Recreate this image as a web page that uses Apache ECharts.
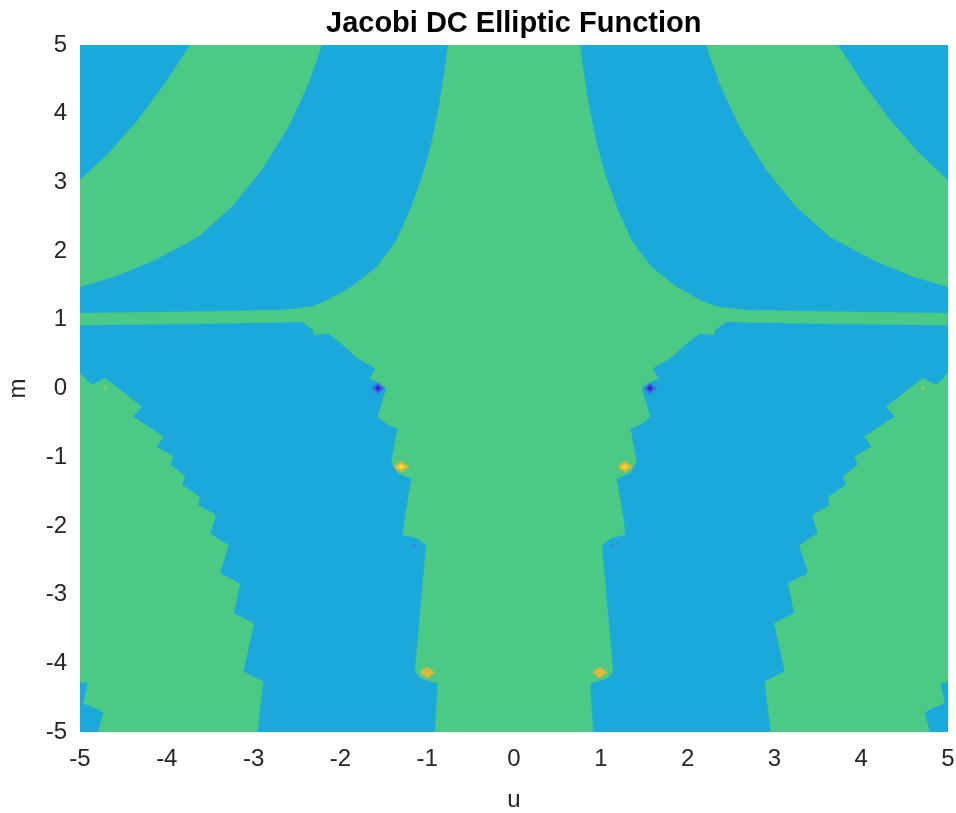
<!DOCTYPE html>
<html>
<head>
<meta charset="utf-8">
<script src="https://cdn.jsdelivr.net/npm/echarts@6/dist/echarts.min.js"></script>
<style>html,body{margin:0;padding:0;background:#fff;}#chart{width:956px;height:813px;}</style>
</head>
<body>
<div id="chart"></div>
<script>
// Axis ticks
const uTicks = [-5, -4, -3, -2, -1, 0, 1, 2, 3, 4, 5];
const mTicks = [-5, -4, -3, -2, -1, 0, 1, 2, 3, 4, 5];

// Region boundaries, [u, m], right half (u >= 0); the plot is mirror-symmetric in u
const centralRight = [
  [0.757, 5.0], [0.803, 4.588], [0.864, 4.10], [0.94, 3.617], [1.045, 3.13], [1.18, 2.646],
  [1.35, 2.16], [1.58, 1.77], [1.87, 1.48], [2.14, 1.29], [2.33, 1.19], [2.67, 1.14],
  [3.8, 1.115], [5.0, 1.095], [5.0, 0.924], [3.5, 0.945], [2.44, 0.972], [2.316, 0.852],
  [2.30, 0.779], [2.14, 0.803], [1.99, 0.658], [1.80, 0.44], [1.62, 0.317], [1.60, 0.27],
  [1.66, 0.149], [1.59, 0.10], [1.47, 0.003], [1.567, -0.41], [1.45, -0.53], [1.34, -0.58],
  [1.41, -1.065], [1.34, -1.23], [1.18, -1.31], [1.26, -1.91], [1.28, -2.13], [1.125, -2.17],
  [1.01, -2.28], [1.14, -4.12], [1.07, -4.22], [0.876, -4.29], [0.91, -5.0]
];
const upperBandRight = [
  [2.215, 5.0], [2.37, 4.44], [2.60, 3.81], [2.91, 3.18], [3.25, 2.65], [3.64, 2.21],
  [4.14, 1.87], [4.60, 1.63], [5.0, 1.48], [5.0, 3.03], [4.67, 3.42], [4.33, 3.91],
  [4.02, 4.44], [3.73, 5.0]
];
const lowerOuterRight = [
  [5.0, 0.22], [4.865, 0.05], [4.71, 0.15], [4.29, -0.265], [4.39, -0.41], [4.04, -0.70],
  [4.12, -0.85], [3.93, -0.99], [3.96, -1.11], [3.79, -1.28], [3.83, -1.40], [3.62, -1.58],
  [3.64, -1.70], [3.44, -1.84], [3.50, -2.11], [3.29, -2.28], [3.39, -2.69], [3.16, -2.84],
  [3.23, -3.27], [3.00, -3.42], [3.12, -4.12], [2.89, -4.27], [2.96, -5.0], [4.79, -5.0],
  [4.73, -4.73], [4.77, -4.68], [4.96, -4.58], [4.91, -4.29], [5.0, -4.27]
];

// Point-like features
const blueSpots = [[1.567, 0.003], [-1.567, 0.003]];
const orangeSpots = [[1.279, -1.138], [-1.30, -1.138], [0.99, -4.135], [-1.0, -4.135]];
const tinyOrange = [[4.71, 0.003], [-4.71, 0.003]];
const tinyBlue = [[1.137, -2.28], [-1.149, -2.28]];

const BLUE = '#1BA9DC';
const GREEN = '#4BCA85';

function mirror(pts) { return pts.map(p => [-p[0], p[1]]); }
const centralPoly = centralRight.concat(mirror(centralRight).reverse());
const polygons = [
  centralPoly,
  upperBandRight, mirror(upperBandRight),
  lowerOuterRight, mirror(lowerOuterRight)
];

const chart = echarts.init(document.getElementById('chart'), null, { renderer: 'canvas' });
const labelStyle = { color: '#262626', fontFamily: 'Liberation Sans, Arial, sans-serif', fontSize: 24 };

chart.setOption({
  animation: false,
  backgroundColor: '#ffffff',
  title: {
    text: 'Jacobi DC Elliptic Function',
    left: 321, top: 4,
    textStyle: { fontFamily: 'Liberation Sans, Arial, sans-serif', fontWeight: 'bold', fontSize: 29, color: '#000' }
  },
  grid: {
    left: 80, right: 8, top: 45, bottom: 81, show: true, backgroundColor: BLUE, borderWidth: 0,
    containLabel: false, outerBoundsMode: 'none'
  },
  xAxis: {
    type: 'value', min: uTicks[0], max: uTicks[uTicks.length - 1], interval: 1,
    name: 'u', nameLocation: 'middle', nameGap: 56,
    nameTextStyle: labelStyle,
    axisLine: { show: false }, axisTick: { show: false }, splitLine: { show: false },
    axisLabel: Object.assign({ margin: 15 }, labelStyle)
  },
  yAxis: {
    type: 'value', min: mTicks[0], max: mTicks[mTicks.length - 1], interval: 1,
    name: 'm', nameLocation: 'middle', nameGap: 50,
    nameTextStyle: labelStyle,
    axisLine: { show: false }, axisTick: { show: false }, splitLine: { show: false },
    axisLabel: Object.assign({ margin: 13 }, labelStyle)
  },
  series: [
    {
      type: 'custom',
      clip: true,
      silent: true,
      data: polygons.map((p, i) => [p[0][0], p[0][1], i]),
      renderItem: function (params, api) {
        const pts = polygons[api.value(2)].map(p => api.coord(p));
        return { type: 'polygon', shape: { points: pts }, style: { fill: GREEN, stroke: GREEN, lineWidth: 0.6 } };
      },
      z: 1
    },
    {
      type: 'scatter', data: blueSpots, symbol: 'diamond', symbolSize: [12, 11],
      itemStyle: { color: '#3b62e4', shadowBlur: 4, shadowColor: 'rgba(60,90,230,0.6)' }, z: 3, silent: true
    },
    {
      type: 'scatter', data: blueSpots, symbol: 'diamond', symbolSize: [6, 6],
      itemStyle: { color: '#3418c8' }, z: 4, silent: true
    },
    {
      type: 'scatter', data: orangeSpots, symbol: 'diamond', symbolSize: [15, 11],
      itemStyle: { color: '#f1b434', shadowBlur: 3, shadowColor: 'rgba(240,180,50,0.6)' }, z: 3, silent: true
    },
    {
      type: 'scatter', data: orangeSpots.slice(0, 2), symbol: 'diamond', symbolSize: [7, 5],
      itemStyle: { color: '#fbe22a' }, z: 4, silent: true
    },
    {
      type: 'scatter', data: tinyOrange, symbol: 'circle', symbolSize: 3,
      itemStyle: { color: '#c9c03c' }, z: 3, silent: true
    },
    {
      type: 'scatter', data: tinyBlue, symbol: 'circle', symbolSize: 3,
      itemStyle: { color: '#3c70e8' }, z: 3, silent: true
    }
  ]
});
</script>
</body>
</html>
